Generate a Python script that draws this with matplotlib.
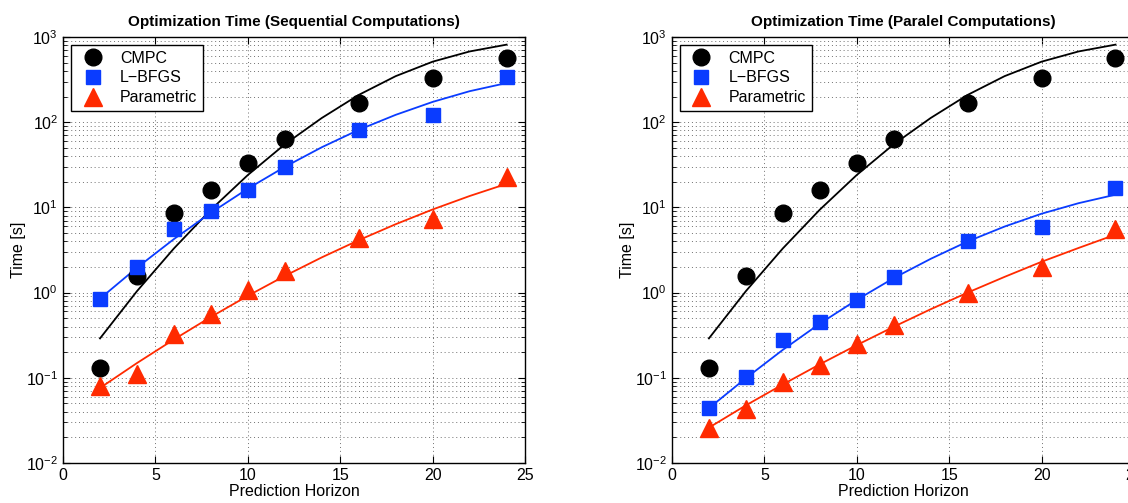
import numpy as np
import matplotlib
matplotlib.use("Agg")
import matplotlib.pyplot as plt
from matplotlib.ticker import LogLocator, NullFormatter

plt.rcParams['font.family'] = ['Liberation Sans', 'DejaVu Sans']
plt.rcParams['mathtext.fontset'] = 'custom'
plt.rcParams['mathtext.rm'] = 'Liberation Sans'
plt.rcParams['mathtext.it'] = 'Liberation Sans:italic'

horizon = [2, 4, 6, 8, 10, 12, 16, 20, 24]

# measured times, sequential
cmpc_seq = [0.13, 1.58, 8.5, 15.8, 33, 64, 170, 330, 560]
lbfgs_seq = [0.85, 2.0, 5.6, 9.1, 16, 30, 80, 120, 335]
param_seq = [0.08, 0.11, 0.33, 0.56, 1.08, 1.8, 4.4, 7.3, 23]

# measured times, parallel
cmpc_par = [0.13, 1.56, 8.7, 15.8, 33.6, 64, 170, 330, 560]
lbfgs_par = [0.044, 0.102, 0.28, 0.45, 0.82, 1.53, 4.0, 5.9, 17]
param_par = [0.026, 0.043, 0.089, 0.14, 0.25, 0.42, 1.0, 2.0, 5.6]

# trend curves
fit_x = [2, 4, 6, 8, 10, 12, 14, 16, 18, 20, 22, 24]
cmpc_fit = [0.29, 1.04, 3.3, 9.4, 24, 55, 112, 209, 347, 513, 676, 813]
lbfgs_fit_seq = [0.85, 1.96, 4.25, 8.65, 16.6, 29.9, 50.8, 81.3, 122, 173, 231, 288]
param_fit_seq = [0.076, 0.149, 0.282, 0.518, 0.917, 1.57, 2.59, 4.12, 6.35, 9.46, 13.6, 18.9]
lbfgs_fit_par = [0.044, 0.099, 0.213, 0.432, 0.822, 1.48, 2.49, 3.98, 5.96, 8.43, 11.2, 14.1]
param_fit_par = [0.026, 0.0475, 0.0836, 0.144, 0.242, 0.397, 0.638, 1.0, 1.53, 2.30, 3.34, 4.79]

blue = '#0a3cff'
red = '#ff2a00'

fig = plt.figure(figsize=(11.28, 5.03), dpi=100)
ax1 = fig.add_axes([0.0559, 0.0795, 0.4096, 0.847])
ax2 = fig.add_axes([0.5957, 0.0795, 0.4096, 0.847])

panels = [
    (ax1, 'Optimization Time (Sequential Computations)',
     cmpc_seq, lbfgs_seq, param_seq, lbfgs_fit_seq, param_fit_seq),
    (ax2, 'Optimization Time (Paralel Computations)',
     cmpc_par, lbfgs_par, param_par, lbfgs_fit_par, param_fit_par),
]

grid_style = dict(ls=(0, (1, 3)), color='#707070', lw=0.7)

for ax, title, c, l, p, lf, pf in panels:
    ax.plot(fit_x, cmpc_fit, color='black', lw=1.3, zorder=2)
    ax.plot(fit_x, lf, color=blue, lw=1.3, zorder=2)
    ax.plot(fit_x, pf, color=red, lw=1.3, zorder=2)
    ax.plot(horizon, c, 'o', color='black', ms=12, label='CMPC', zorder=3)
    ax.plot(horizon, l, 's', color=blue, ms=9.5, label='L\u2212BFGS', zorder=3)
    ax.plot(horizon, p, '^', color=red, ms=13, label='Parametric', zorder=3)

    ax.set_yscale('log')
    ax.set_xlim(0, 25)
    ax.set_ylim(1e-2, 1e3)
    ax.set_xticks([0, 5, 10, 15, 20, 25])
    ax.yaxis.set_major_locator(LogLocator(base=10, numticks=10))
    ax.yaxis.set_minor_locator(LogLocator(base=10, subs=np.arange(2, 10), numticks=10))
    ax.yaxis.set_minor_formatter(NullFormatter())
    ax.grid(True, which='major', axis='both', **grid_style)
    ax.grid(True, which='minor', axis='y', **grid_style)
    ax.tick_params(which='both', direction='in', top=True, right=True, labelsize=11.5)
    ax.tick_params(which='major', length=5)
    ax.tick_params(which='minor', length=3)
    for s in ax.spines.values():
        s.set_linewidth(1.0)
    ax.set_title(title, fontsize=11, fontweight='bold', pad=8)
    ax.set_xlabel('Prediction Horizon', fontsize=11.5, labelpad=1)
    ax.set_ylabel('Time [s]', fontsize=11.5, labelpad=0)
    leg = ax.legend(loc='upper left', fontsize=11.5, fancybox=False, framealpha=1,
                    edgecolor='black', borderpad=0.35, labelspacing=0.3,
                    handletextpad=0.7, borderaxespad=0.5)
    leg.get_frame().set_linewidth(1.0)

fig.savefig('out.png', dpi=100)
